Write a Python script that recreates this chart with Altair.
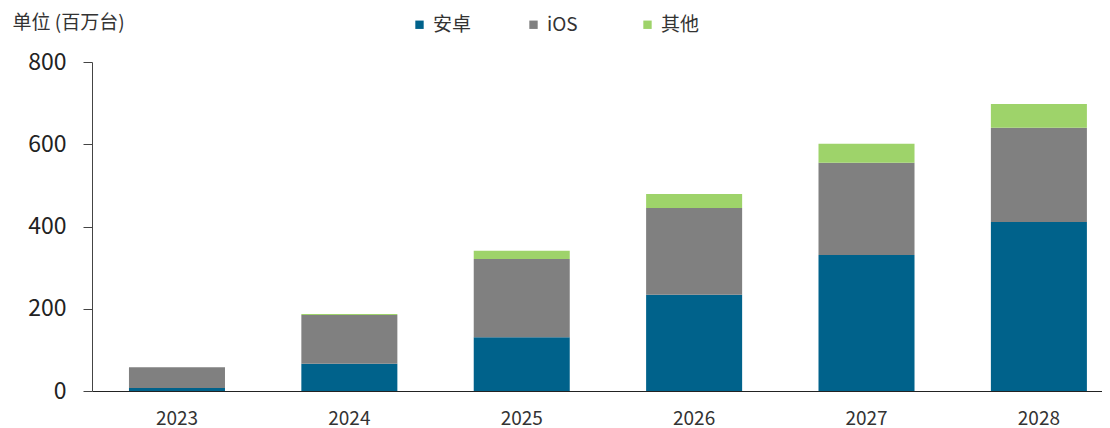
import altair as alt
import pandas as pd

years = ["2023", "2024", "2025", "2026", "2027", "2028"]
android = [7, 66, 131, 234, 331, 411]
ios = [51, 119, 190, 211, 224, 229]
other = [0, 2, 20, 34, 46, 58]
series = ["安卓", "iOS", "其他"]
colors = ["#00628B", "#808080", "#9ED36A"]

rows = []
for i, y in enumerate(years):
    for k, (name, vals) in enumerate(zip(series, [android, ios, other])):
        rows.append({"year": y, "series": name, "value": vals[i], "order": k})
df = pd.DataFrame(rows)

FONT = "Noto Sans CJK SC"

chart = alt.Chart(df).mark_bar().encode(
    x=alt.X("year:N", sort=years,
            scale=alt.Scale(paddingInner=0.443, paddingOuter=0.151, align=0.71),
            axis=alt.Axis(title=None, labelAngle=0, ticks=False, labelFontSize=19,
                          labelColor="#333333", labelPadding=18, domainColor="#222222",
                          domainWidth=1.2, labelFont=FONT)),
    y=alt.Y("value:Q", stack="zero",
            scale=alt.Scale(domain=[0, 800], nice=False),
            axis=alt.Axis(values=[0, 200, 400, 600, 800], grid=False, tickSize=9,
                          tickColor="#444444", domainColor="#444444",
                          labelFontSize=23, labelColor="#222222", labelPadding=17,
                          labelFont=FONT,
                          title="单位 (百万台)", titleAngle=0, titleAlign="left",
                          titleBaseline="middle", titleX=-80, titleY=-40,
                          titleFontSize=19, titleFontWeight="normal",
                          titleColor="#333333", titleFont=FONT)),
    color=alt.Color("series:N", sort=series,
                    scale=alt.Scale(domain=series, range=colors),
                    legend=alt.Legend(title=None, orient="none", direction="horizontal",
                                      legendX=318, legendY=-47, columns=3,
                                      gridAlign="all", columnPadding=52,
                                      symbolType="square", symbolSize=70,
                                      symbolStrokeWidth=0, labelFontSize=19,
                                      labelColor="#333333", labelFont=FONT,
                                      symbolOffset=0, labelOffset=4)),
    order=alt.Order("order:Q", sort="ascending"),
).properties(
    width=1010, height=329,
    autosize=alt.AutoSizeParams(type="none"),
    padding={"left": 84, "top": 54, "right": 0, "bottom": 41},
).configure_view(stroke=None)

chart.save("out.html", embed_options={"renderer": "svg", "actions": False})
